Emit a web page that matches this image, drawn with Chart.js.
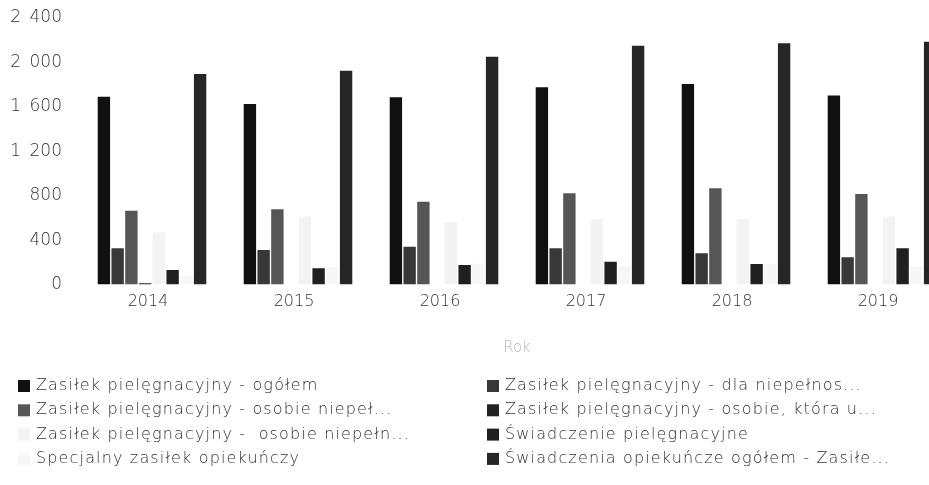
<!DOCTYPE html>
<html>
<head>
<meta charset="utf-8">
<script src="https://cdn.jsdelivr.net/npm/chart.js@4/dist/chart.umd.min.js"></script>
<style>
  html, body { margin: 0; padding: 0; background: #fff; width: 929px; height: 485px; overflow: hidden; }
  canvas { display: block; }
</style>
</head>
<body>
<canvas id="chart" width="960" height="485"></canvas>
<script>
// Lata (kategorie osi X)
const years = ['2014', '2015', '2016', '2017', '2018', '2019'];

// Etykiety serii w legendzie
const seriesLabels = [
  'Zasiłek pielęgnacyjny - ogółem',
  'Zasiłek pielęgnacyjny - dla niepełnos...',
  'Zasiłek pielęgnacyjny - osobie niepeł...',
  'Zasiłek pielęgnacyjny - osobie, która u...',
  'Zasiłek pielęgnacyjny -  osobie niepełn...',
  'Świadczenie pielęgnacyjne',
  'Specjalny zasiłek opiekuńczy',
  'Świadczenia opiekuńcze ogółem - Zasiłe...'
];

// Wartości serii
const zasilekOgolem       = [1690, 1625, 1686, 1776, 1806, 1701];
const dlaNiepelnosDziecka = [326, 311, 341, 326, 281, 245];
const osobieNiepelZnaczny = [665, 677, 746, 821, 866, 815];
const osobie75Lat         = [12, 0, 0, 0, 0, 0];
const osobieNiepelnUmiark = [470, 610, 560, 590, 590, 610];
const swiadczeniePiel     = [131, 146, 176, 205, 185, 326];
const specjalnyZasilek    = [82, 157, 190, 168, 182, 160];
const swiadczeniaOgolem   = [1896, 1926, 2052, 2149, 2173, 2187];

// Podziałka osi Y
const yTicks = [0, 400, 800, 1200, 1600, 2000, 2400];

const seriesValues = [
  zasilekOgolem, dlaNiepelnosDziecka, osobieNiepelZnaczny, osobie75Lat,
  osobieNiepelnUmiark, swiadczeniePiel, specjalnyZasilek, swiadczeniaOgolem
];
const seriesColors = [
  '#111111', '#383838', '#565656', '#232323',
  '#f3f3f3', '#202020', '#f7f7f7', '#262626'
];

const FONT = "'DejaVu Sans', sans-serif";
const TEXT = '#333333';

// Separator tysięcy: półpauzowa spacja
function fmt(v) {
  if (v >= 1000) return Math.floor(v / 1000) + '\u2002' + String(v % 1000).padStart(3, '0');
  return String(v);
}

// Legenda w dwóch kolumnach pod wykresem
const twoColumnLegend = {
  id: 'twoColumnLegend',
  afterDraw(chart) {
    const ctx = chart.ctx;
    const colX = [18, 487];
    const rowY0 = 386, rowH = 24.3, box = 12;
    ctx.save();
    ctx.font = '200 16px ' + FONT;
    ctx.letterSpacing = '1.15px';
    ctx.textBaseline = 'middle';
    ctx.textAlign = 'left';
    chart.data.datasets.forEach((ds, i) => {
      const x = colX[i % 2];
      const y = rowY0 + Math.floor(i / 2) * rowH;
      ctx.fillStyle = ds.backgroundColor;
      ctx.fillRect(x, y - box / 2, box, box);
      ctx.fillStyle = TEXT;
      ctx.fillText(ds.label, x + 18, y);
    });
    ctx.restore();
  }
};

new Chart(document.getElementById('chart'), {
  type: 'bar',
  data: {
    labels: years,
    datasets: seriesLabels.map((label, i) => ({
      label,
      data: seriesValues[i],
      backgroundColor: seriesColors[i],
      borderWidth: 0,
      categoryPercentage: 0.753,
      barPercentage: 0.9
    }))
  },
  options: {
    responsive: false,
    animation: false,
    layout: { padding: { left: 8, right: 5, top: 18, bottom: 125.5 } },
    plugins: {
      legend: { display: false },
      tooltip: { enabled: false }
    },
    scales: {
      x: {
        grid: { display: false, drawTicks: false },
        border: { display: false },
        ticks: { color: TEXT, font: { family: FONT, size: 16, weight: 200 }, padding: 8, labelOffset: -4 },
        title: { display: true, text: 'Rok', color: '#b8b8b8', font: { family: FONT, size: 15, weight: 200 }, padding: { top: 0, bottom: 2 } },
        afterFit(axis) { axis.height = 75; }
      },
      y: {
        min: yTicks[0],
        max: yTicks[yTicks.length - 1],
        grid: { display: false, drawTicks: false },
        border: { display: false },
        afterBuildTicks(axis) { axis.ticks = yTicks.map(v => ({ value: v })); },
        ticks: { color: TEXT, font: { family: FONT, size: 17, weight: 200 }, padding: 17, callback: v => fmt(v) },
        afterFit(axis) {
          axis.width = 71;
          axis.paddingTop = 9;
          axis.paddingBottom = 9;
        }
      }
    }
  },
  plugins: [twoColumnLegend]
});
</script>
</body>
</html>
